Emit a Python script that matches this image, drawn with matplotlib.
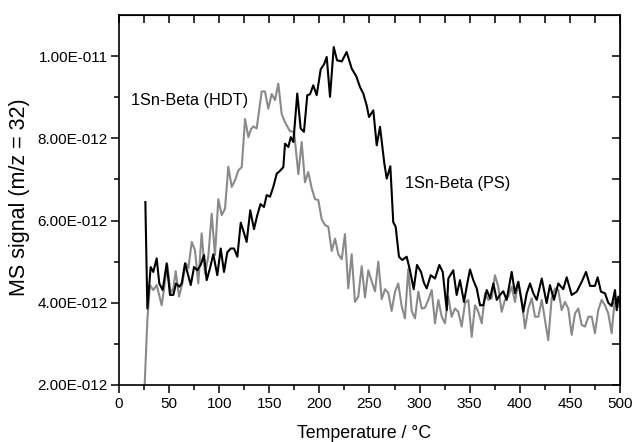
import numpy as np
import matplotlib
matplotlib.use('Agg')
import matplotlib.pyplot as plt
from matplotlib.ticker import FixedLocator, FuncFormatter, NullFormatter

plt.rcParams['font.family'] = ['Liberation Sans', 'DejaVu Sans']

# MS signal, values in units of 1e-12
ps_temp = [26.3, 28.3, 31.6, 34.2, 37.6, 40.2, 43.6, 47.6, 50.9, 54.2, 56.9, 60.2, 62.6, 65.9, 68.2,
           71.6, 74.9, 78.1, 81.5, 84.8, 87.5, 90.8, 94.1, 98.1, 101.5, 104.8, 108.1, 111.5, 114.8,
           118.1, 121.5, 124.5, 127.4, 131.0, 134.7, 138.0, 141.2, 144.7, 147.4, 150.7, 154.0, 157.4,
           160.7, 164.0, 165.7, 169.0, 171.4, 174.0, 177.9, 181.3, 184.6, 187.9, 190.6, 193.9, 197.3,
           201.3, 204.6, 207.3, 210.6, 214.3, 217.6, 222.3, 227.2, 232.2, 236.8, 240.5, 243.8, 247.2,
           249.5, 253.8, 257.2, 260.5, 264.8, 267.2, 270.8, 273.7, 276.1, 279.4, 282.7, 287.1, 290.4,
           294.1, 297.4, 301.4, 304.4, 307.1, 311.1, 315.4, 319.7, 323.1, 327.1, 328.7, 333.6, 337.0,
           340.3, 344.3, 347.0, 350.3, 353.6, 357.0, 360.3, 363.6, 367.0, 370.3, 373.6, 377.0, 380.2,
           383.5, 386.9, 391.9, 395.2, 398.5, 403.5, 406.9, 410.2, 413.5, 416.9, 421.9, 426.8, 430.1,
           434.1, 438.4, 443.4, 446.8, 451.8, 456.8, 461.8, 466.1, 470.1, 475.0, 477.7, 481.0, 485.0,
           488.3, 491.7, 495.0, 496.7, 498.3, 500.0]
ps_signal = [6.45, 3.86, 4.87, 4.75, 5.08, 4.47, 4.31, 4.96, 4.19, 4.19, 4.47, 4.39, 4.47, 4.96, 4.75,
             4.43, 4.87, 4.79, 4.92, 5.16, 4.55, 4.84, 5.18, 4.67, 5.32, 4.75, 5.23, 5.32, 5.32,
             5.12, 5.95, 5.72, 5.48, 6.25, 5.79, 6.13, 6.40, 6.33, 6.62, 6.58, 6.82, 7.14,
             7.21, 7.30, 7.87, 7.79, 8.03, 7.91, 9.09, 8.24, 8.16, 9.05, 9.07, 9.29, 9.05,
             9.68, 9.80, 9.98, 9.01, 10.22, 9.90, 9.87, 10.10, 9.70, 9.51, 9.25, 9.09, 8.80,
             8.52, 8.68, 7.83, 8.28, 7.39, 7.02, 7.32, 5.96, 5.85, 5.12, 5.04, 5.12, 4.79,
             4.33, 4.92, 4.75, 4.48, 4.35, 4.67, 4.59, 4.92, 4.75, 3.82, 4.59, 4.79, 4.19,
             4.55, 4.02, 4.39, 4.81, 4.55, 4.35, 3.94, 3.94, 4.31, 4.11, 4.47, 4.07, 4.19,
             4.28, 4.07, 4.75, 4.23, 4.51, 3.78, 4.23, 4.47, 4.23, 4.07, 4.59, 3.99, 4.43,
             4.07, 4.47, 4.33, 4.62, 4.19, 4.27, 4.51, 4.75, 4.41, 4.41, 4.62, 4.27, 4.23,
             4.00, 3.92, 4.31, 3.82, 4.15, 3.99]

hdt_temp = [25.3, 28.3, 30.9, 34.2, 37.6, 42.6, 45.9, 48.2, 51.6, 54.2, 56.6, 59.9, 63.2, 66.6, 69.2,
            72.6, 75.8, 79.1, 82.5, 85.8, 89.1, 92.5, 95.8, 99.1, 102.5, 105.8, 109.1, 112.5, 115.8,
            119.1, 122.5, 125.8, 129.1, 131.7, 134.0, 137.4, 142.4, 145.7, 149.0, 152.4, 155.7, 159.0,
            162.4, 165.7, 170.7, 174.7, 179.0, 182.3, 185.6, 188.9, 192.3, 195.6, 198.9, 202.3, 205.6,
            208.9, 212.3, 215.6, 218.9, 222.3, 225.5, 228.8, 232.2, 235.5, 238.8, 242.2, 245.5, 248.8,
            252.2, 255.5, 258.8, 262.2, 265.5, 268.8, 272.1, 275.4, 278.7, 282.1, 285.4, 288.7, 292.1,
            295.4, 298.7, 302.1, 305.4, 308.7, 312.1, 315.4, 318.7, 322.1, 325.3, 328.6, 332.0, 335.3,
            338.6, 342.0, 345.3, 348.6, 352.0, 355.3, 358.6, 362.0, 365.3, 368.6, 372.0, 375.2, 378.5,
            381.9, 385.2, 388.5, 391.9, 395.2, 398.5, 401.9, 405.2, 408.5, 411.9, 415.2, 418.5, 421.9,
            425.1, 428.4, 431.8, 435.1, 438.4, 441.8, 445.1, 448.4, 451.8, 455.1, 458.4, 461.8, 465.1,
            468.4, 471.8, 475.0, 478.3, 481.7, 485.0, 488.3, 491.7, 495.0, 498.3, 500.0]
hdt_signal = [1.83, 3.58, 4.43, 4.31, 4.43, 3.94, 4.51, 4.92, 4.23, 4.35, 4.77, 4.15, 4.47, 4.96, 4.84,
              5.48, 5.28, 4.47, 5.69, 4.71, 5.12, 6.17, 5.16, 6.52, 6.13, 6.29, 7.31, 6.82, 6.98,
              7.22, 7.30, 8.47, 8.03, 8.22, 8.29, 8.24, 9.14, 9.14, 8.72, 9.08, 8.93, 9.33,
              8.59, 8.39, 8.17, 8.16, 7.13, 7.91, 6.93, 7.18, 6.79, 6.52, 6.50, 6.03, 5.89,
              5.85, 5.26, 5.56, 5.18, 5.06, 5.67, 4.35, 5.18, 4.02, 4.15, 4.89, 4.13, 4.79,
              4.52, 4.28, 5.00, 4.09, 4.33, 4.24, 3.80, 4.26, 4.47, 3.92, 3.62, 4.82, 3.80,
              3.62, 4.27, 3.86, 3.88, 4.07, 4.31, 3.50, 4.07, 3.66, 3.50, 4.15, 3.66, 3.86,
              3.78, 3.42, 3.99, 4.07, 3.17, 3.94, 3.78, 3.50, 4.23, 4.07, 4.11, 4.67, 4.39,
              3.78, 4.07, 4.15, 4.39, 4.02, 4.51, 4.07, 3.38, 3.86, 4.11, 3.66, 3.66, 4.07,
              3.58, 3.09, 4.11, 4.35, 4.31, 3.82, 4.02, 3.86, 3.22, 3.74, 3.86, 3.46, 3.42,
              3.66, 3.66, 3.26, 3.82, 4.07, 3.94, 3.74, 3.26, 4.15, 3.90, 4.07]

x_major = [0, 50, 100, 150, 200, 250, 300, 350, 400, 450, 500]
x_minor = [25, 75, 125, 175, 225, 275, 325, 375, 425, 475]
y_major = [2e-12, 4e-12, 6e-12, 8e-12, 1e-11]
y_minor = [3e-12, 5e-12, 7e-12, 9e-12]

ps_signal = np.array(ps_signal) * 1e-12
hdt_signal = np.array(hdt_signal) * 1e-12


def sci_fmt(v, pos):
    e = int(np.floor(np.log10(abs(v)) + 1e-9))
    m = v / 10 ** e
    return "{:.2f}E{:+04d}".format(m, e)


fig = plt.figure(figsize=(6.32, 4.42), dpi=100)
ax = fig.add_axes([0.1883, 0.129, 0.7927, 0.837])

ax.plot(hdt_temp, hdt_signal, color='#8a8a8a', lw=1.5, zorder=2)
ax.plot(ps_temp, ps_signal, color='#000000', lw=1.5, zorder=3)

ax.set_xlim(0, 500)
ax.set_ylim(2e-12, 1.1e-11)

ax.xaxis.set_major_locator(FixedLocator(x_major))
ax.xaxis.set_minor_locator(FixedLocator(x_minor))
ax.yaxis.set_major_locator(FixedLocator(y_major))
ax.yaxis.set_minor_locator(FixedLocator(y_minor))
ax.yaxis.set_major_formatter(FuncFormatter(sci_fmt))

ax.tick_params(which='major', direction='out', length=6, width=1.1, labelsize=11, pad=2)
ax.tick_params(which='minor', direction='out', length=3.5, width=1.1)
ax.tick_params(axis='x', which='major', pad=3)
for s in ax.spines.values():
    s.set_linewidth(1.2)

# top and right: inward ticks, no labels
top = ax.secondary_xaxis('top')
top.xaxis.set_major_locator(FixedLocator(sorted(x_major + x_minor)))
top.xaxis.set_major_formatter(NullFormatter())
top.tick_params(direction='in', length=6, width=1.1, labeltop=False)
right = ax.secondary_yaxis('right')
right.yaxis.set_major_locator(FixedLocator(sorted(y_major + y_minor)))
right.yaxis.set_major_formatter(NullFormatter())
right.tick_params(direction='in', length=6, width=1.1, labelright=False)

ax.set_xlabel("Temperature / °C", fontsize=12.8, va='center')
ax.xaxis.set_label_coords(0.49, -0.13)
ax.set_ylabel("MS signal (m/z = 32)", fontsize=15.5, va='center', ha='center')
ax.yaxis.set_label_coords(-0.198, 0.507)

ax.text(11.7, 8.93e-12, "1Sn-Beta (HDT)", fontsize=11.7, va='center', ha='left')
ax.text(285.4, 6.91e-12, "1Sn-Beta (PS)", fontsize=11.7, va='center', ha='left')

fig.savefig('out.png', dpi=100)
